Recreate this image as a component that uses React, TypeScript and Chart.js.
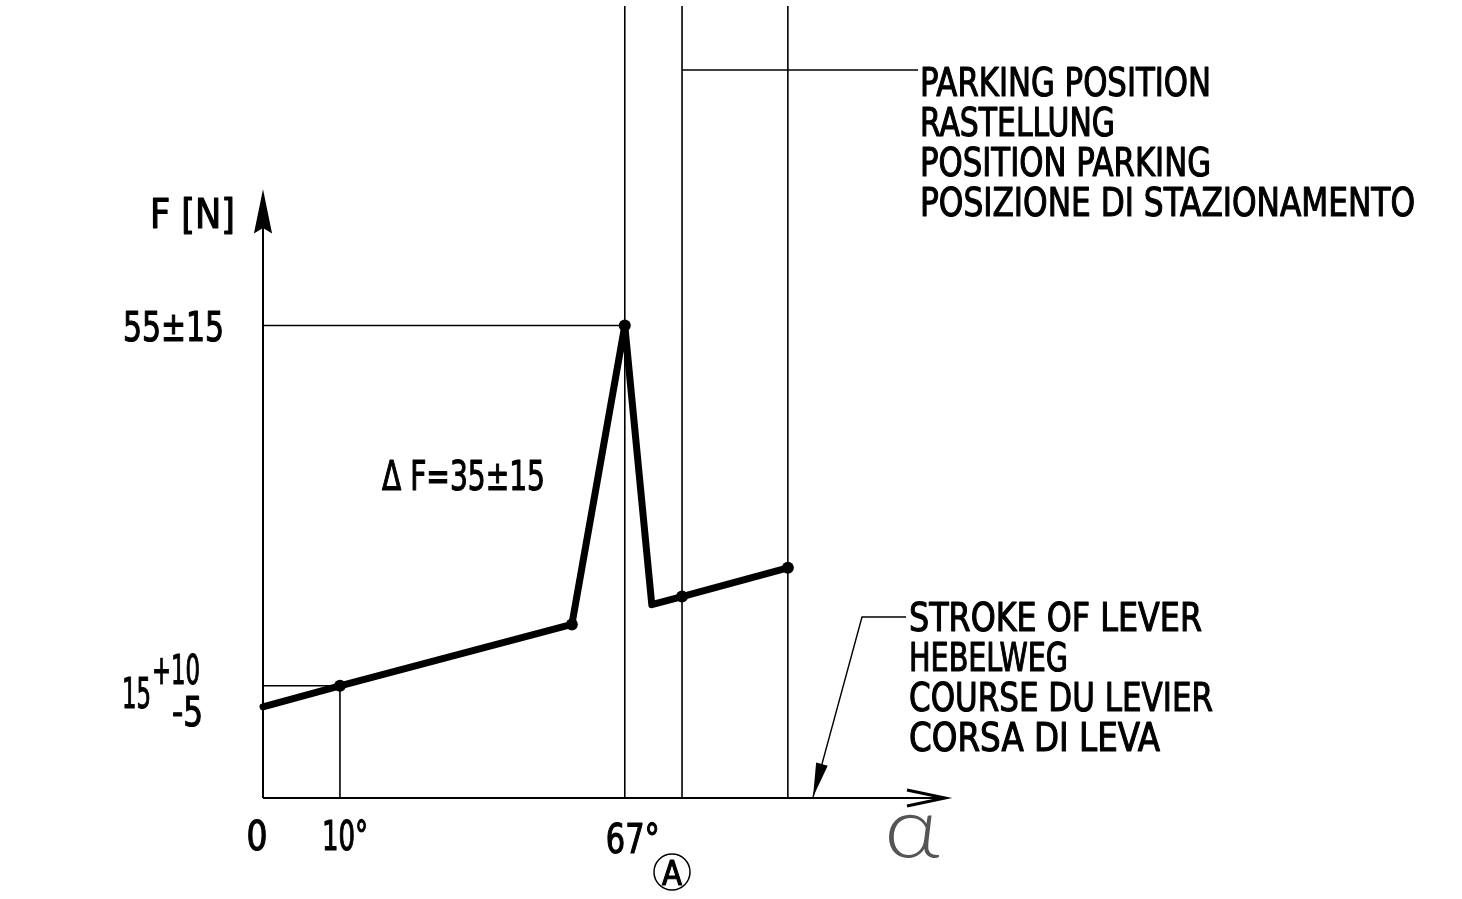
import React, { useEffect, useRef } from "react";
import { Chart, registerables } from "chart.js";

Chart.register(...registerables);

// Schematic stroke position (drawing units along the lever travel) and force in N
const strokePos = [0, 14.25, 57.2, 67, 72, 77.6, 97.2];
const forceN = [10.6, 13.06, 20.2, 55, 22.5, 23.45, 26.8];
const hasDot = [false, true, true, true, false, true, true];

const xTickValues = [0, 14.25, 67];
const xTickLabels = ["0", "10°", "67°"];

const peakPos = 67;
const peakForce = 55;
const peakLabel = "55±15";
const tenDegPos = 14.25;
const tenDegForce = 13.06;
const parkingPos = 77.6;
const endPos = 97.2;

const xMax = 126.3;
const yMax = 92.2;

const yAxisTitle = "F [N]";
const deltaLabel = "Δ F=35±15";
const parkingLabels = ["PARKING POSITION", "RASTELLUNG", "POSITION PARKING", "POSIZIONE DI STAZIONAMENTO"];
const strokeLabels = ["STROKE OF LEVER", "HEBELWEG", "COURSE DU LEVIER", "CORSA DI LEVA"];

const FONT = '"DejaVu Sans Condensed", "Liberation Sans Narrow", sans-serif';

function fitText(ctx: CanvasRenderingContext2D, text: string, x: number, y: number, size: number, width: number, align: "left" | "center" | "right" = "left") {
  ctx.save();
  ctx.font = `${size}px ${FONT}`;
  ctx.textBaseline = "alphabetic";
  ctx.textAlign = "left";
  const w = ctx.measureText(text).width;
  const sx = width / w;
  let x0 = x;
  if (align === "center") x0 = x - width / 2;
  if (align === "right") x0 = x - width;
  ctx.translate(x0, y);
  ctx.scale(sx, 1);
  ctx.fillText(text, 0, 0);
  ctx.lineWidth = 1.1;
  ctx.lineJoin = "round";
  ctx.strokeText(text, 0, 0);
  ctx.restore();
}

const drawingPlugin = {
  id: "drawing",
  beforeDatasetsDraw(chart: any) {
    const ctx: CanvasRenderingContext2D = chart.ctx;
    const xs = chart.scales.x;
    const ys = chart.scales.y;
    const ca = chart.chartArea;
    const px = (v: number) => xs.getPixelForValue(v);
    const py = (v: number) => ys.getPixelForValue(v);
    ctx.save();
    ctx.strokeStyle = "#000";
    ctx.lineWidth = 1.6;
    ctx.beginPath();
    ctx.moveTo(px(0), py(peakForce));
    ctx.lineTo(px(peakPos), py(peakForce));
    ctx.moveTo(px(0), py(tenDegForce));
    ctx.lineTo(px(tenDegPos), py(tenDegForce));
    ctx.moveTo(px(tenDegPos), py(tenDegForce));
    ctx.lineTo(px(tenDegPos), py(0));
    [peakPos, parkingPos, endPos].forEach((v) => {
      ctx.moveTo(px(v), ca.top);
      ctx.lineTo(px(v), py(0));
    });
    ctx.stroke();
    ctx.restore();
  },
  afterDraw(chart: any) {
    const ctx: CanvasRenderingContext2D = chart.ctx;
    const xs = chart.scales.x;
    const ys = chart.scales.y;
    const px = (v: number) => xs.getPixelForValue(v);
    const py = (v: number) => ys.getPixelForValue(v);
    const x0 = px(0);
    const y0 = py(0);
    const xEnd = px(xMax);
    ctx.save();
    ctx.fillStyle = "#000";
    ctx.strokeStyle = "#000";

    // axes
    ctx.lineWidth = 2;
    ctx.beginPath();
    ctx.moveTo(x0, y0);
    ctx.lineTo(x0, 205);
    ctx.moveTo(x0, y0);
    ctx.lineTo(xEnd - 4, y0);
    ctx.stroke();

    // y arrow
    ctx.beginPath();
    ctx.moveTo(x0, 193);
    ctx.lineTo(x0 + 8, 232);
    ctx.lineTo(x0, 227);
    ctx.lineTo(x0 - 8, 232);
    ctx.closePath();
    ctx.fill();
    ctx.lineWidth = 1.5;
    ctx.stroke();

    // x arrow (open chevron)
    ctx.lineWidth = 3;
    ctx.beginPath();
    ctx.moveTo(xEnd - 38, y0 - 8);
    ctx.lineTo(xEnd, y0);
    ctx.lineTo(xEnd - 38, y0 + 8);
    ctx.stroke();

    // parking leader
    ctx.lineWidth = 1.4;
    ctx.beginPath();
    ctx.moveTo(px(parkingPos), 70);
    ctx.lineTo(918, 70);
    ctx.stroke();

    // stroke leader with arrow
    const tipX = 813, tipY = y0 - 1;
    ctx.beginPath();
    ctx.moveTo(906, 617);
    ctx.lineTo(862, 617);
    ctx.lineTo(tipX, tipY);
    ctx.stroke();
    {
      const dx = 862 - tipX, dy = 617 - tipY;
      const L = Math.hypot(dx, dy);
      const ux = dx / L, uy = dy / L;
      const len = 34, half = 6;
      const bx = tipX + ux * len, by = tipY + uy * len;
      ctx.beginPath();
      ctx.moveTo(tipX, tipY);
      ctx.lineTo(bx - uy * half, by + ux * half);
      ctx.lineTo(bx + uy * half, by - ux * half);
      ctx.closePath();
      ctx.fill();
    }

    // text
    fitText(ctx, yAxisTitle, 150, 228, 40, 85);
    fitText(ctx, peakLabel, x0 - 39, py(peakForce) + 15, 40, 101, "right");
    const t15 = py(tenDegForce);
    fitText(ctx, "15", 122, t15 + 22, 42, 29);
    fitText(ctx, "+10", 152, t15 - 2, 40, 48);
    fitText(ctx, "-5", 172, t15 + 40, 40, 31);

    fitText(ctx, deltaLabel, 382, 490, 40, 163);

    const tickOffsets = [-6, 5, 8];
    const tickWidths = [21, 46, 54];
    xTickValues.forEach((v, i) => {
      fitText(ctx, xTickLabels[i], px(v) + tickOffsets[i], y0 + 52 + (i === 2 ? 3 : 0), 40, tickWidths[i], "center");
    });

    // circled A
    ctx.lineWidth = 1.5;
    ctx.beginPath();
    ctx.arc(672, 872, 18, 0, Math.PI * 2);
    ctx.stroke();
    fitText(ctx, "A", 672, 885, 34, 20, "center");

    // alpha
    ctx.save();
    ctx.fillStyle = "#555";
    ctx.font = `300 84px "DejaVu Sans ExtraLight", "Lato", sans-serif`;
    ctx.textAlign = "left";
    ctx.translate(884, 857);
    ctx.scale(1.15, 1);
    ctx.fillText("α", 0, 0);
    ctx.restore();

    const parkW = [291, 195, 291, 495];
    parkingLabels.forEach((t, i) => fitText(ctx, t, 920, 96 + i * 40, 39, parkW[i]));
    const strokeW = [293, 159, 304, 251];
    strokeLabels.forEach((t, i) => fitText(ctx, t, 909, 631 + i * 40, 39, strokeW[i]));

    ctx.restore();
  },
};

export default function App() {
  const ref = useRef<HTMLCanvasElement>(null);
  useEffect(() => {
    document.body.style.margin = "0";
    const chart = new Chart(ref.current!, {
      type: "line",
      data: {
        datasets: [
          {
            data: strokePos.map((x, i) => ({ x, y: forceN[i] })),
            borderColor: "#000",
            backgroundColor: "#000",
            borderWidth: 7,
            pointRadius: (c: any) => (hasDot[c.dataIndex] ? 6 : 0),
            pointBorderWidth: 0,
            pointBackgroundColor: "#000",
            tension: 0,
            clip: false as any,
            borderJoinStyle: "round",
            borderCapStyle: "round",
          },
        ],
      },
      options: {
        animation: false,
        responsive: false,
        maintainAspectRatio: false,
        devicePixelRatio: 1,
        layout: { padding: { left: 263, right: 1462 - 945, top: 0, bottom: 899 - 798 } },
        plugins: { legend: { display: false }, tooltip: { enabled: false } },
        events: [],
        scales: {
          x: { type: "linear", min: 0, max: xMax, display: false },
          y: { type: "linear", min: 0, max: yMax, display: false },
        },
      },
      plugins: [drawingPlugin],
    });
    return () => chart.destroy();
  }, []);
  return (
    <div style={{ position: "fixed", left: 0, top: 0, width: 1462, height: 899, background: "#fff" }}>
      <canvas ref={ref} width={1462} height={899} style={{ width: 1462, height: 899, display: "block" }} />
    </div>
  );
}
